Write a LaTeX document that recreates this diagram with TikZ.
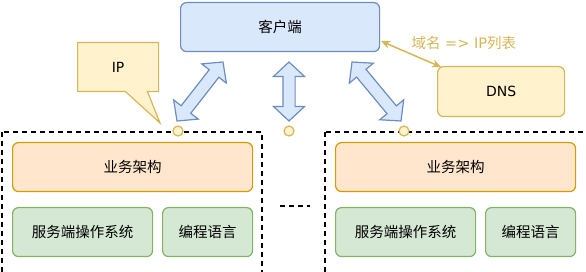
\documentclass[tikz,border=0pt]{standalone}
\usepackage{fontspec}
\setmainfont{DejaVu Sans}
\newfontfamily\cjk{Noto Sans CJK SC}
\usetikzlibrary{shapes.arrows,shapes.callouts,calc,arrows.meta}
\definecolor{bluefill}{HTML}{DAE8FC}
\definecolor{bluedraw}{HTML}{6C8EBF}
\definecolor{goldfill}{HTML}{FFF2CC}
\definecolor{golddraw}{HTML}{D6B656}
\definecolor{orangefill}{HTML}{FFE6CC}
\definecolor{orangedraw}{HTML}{D79B00}
\definecolor{greenfill}{HTML}{D5E8D4}
\definecolor{greendraw}{HTML}{82B366}

\begin{document}
\begin{tikzpicture}[x=1pt, y=-1pt,
    box/.style={rectangle, rounded corners=6pt, line width=1.2pt, anchor=north west,
                inner sep=0pt, font=\fontsize{14.5}{16}\selectfont},
    client/.style={box, draw=bluedraw, fill=bluefill, font=\fontsize{14.5}{16}\selectfont\cjk},
    dnsbox/.style={box, draw=golddraw, fill=goldfill, font=\fontsize{14}{16}\selectfont},
    biz/.style={box, draw=orangedraw, fill=orangefill, minimum width=240, minimum height=49,
                font=\fontsize{14.5}{16}\selectfont\cjk},
    osbox/.style={box, draw=greendraw, fill=greenfill, minimum width=140, minimum height=49,
                  font=\fontsize{14.5}{16}\selectfont\cjk},
    langbox/.style={osbox, minimum width=90},
    group/.style={draw=black, line width=1.3pt, dash pattern=on 5pt off 4pt},
    port/.style={circle, draw=golddraw, fill=goldfill, line width=1.2pt, minimum size=10pt, inner sep=0pt},
    dblarrow/.style={double arrow, draw=bluedraw, fill=bluefill, line width=1.2pt,
                     inner xsep=0pt, inner ysep=5.5pt, double arrow head extend=9.5pt,
                     double arrow tip angle=94},
    goldlink/.style={draw=golddraw, line width=1.5pt, {Stealth[length=9pt,width=8pt]}-{Stealth[length=9pt,width=8pt]}}
]
    \clip (0,0) rectangle (586,272);
    \useasboundingbox (0,0) rectangle (586,272);

    % top row
    \node[client, minimum width=199, minimum height=49] (cli) at (180,2) {客户端};
    \node[dnsbox, minimum width=127, minimum height=50] (dns) at (437,66) {DNS};
    \draw[goldlink] ($(cli.south east)+(1,-11)$) -- ($(dns.north west)+(4,1)$);
    \node[font=\fontsize{14.5}{16}\selectfont, text=golddraw, anchor=west] (dnslbl) at (408,43)
        {{\cjk 域名} => IP{\cjk 列表}};
    \node[rectangle callout, draw=golddraw, fill=goldfill, line width=1.2pt, anchor=north west,
          minimum width=81, minimum height=49, callout absolute pointer={(160,123)},
          callout pointer width=22pt, font=\fontsize{14}{16}\selectfont] (ip) at (77,42) {IP};

    % server groups
    \draw[group] (2,132) rectangle (262,285);
    \draw[group] (325,132) rectangle (598,285);
    \draw[group] (280,206) -- (310,206);
    \node[port] (p1) at (178,131) {};
    \node[port] (p2) at (289,131) {};
    \node[port] (p3) at (404,131) {};

    \node[biz] (biz1) at (12,142) {业务架构};
    \node[osbox] (os1) at (12,207) {服务端操作系统};
    \node[langbox] (lang1) at (162,207) {编程语言};
    \node[biz] (biz2) at (335,142) {业务架构};
    \node[osbox] (os2) at (335,207) {服务端操作系统};
    \node[langbox] (lang2) at (485,207) {编程语言};

    % block arrows client <-> ports
    \coordinate (a1) at (223,62);  \coordinate (b1) at ($(p1)+(-1,-10)$);
    \coordinate (a2) at (289,62);  \coordinate (b2) at ($(p2)+(0,-10)$);
    \coordinate (a3) at (352,62);  \coordinate (b3) at ($(p3)+(-3,-10)$);
    \foreach \i in {1,2,3}
        \path let \p1=($(b\i)-(a\i)$), \n1={atan2(\y1,\x1)}, \n2={veclen(\x1,\y1)} in
            node[dblarrow, minimum height=\n2, rotate=\n1] (arr\i) at ($(a\i)!0.5!(b\i)$) {};
\end{tikzpicture}
\end{document}
